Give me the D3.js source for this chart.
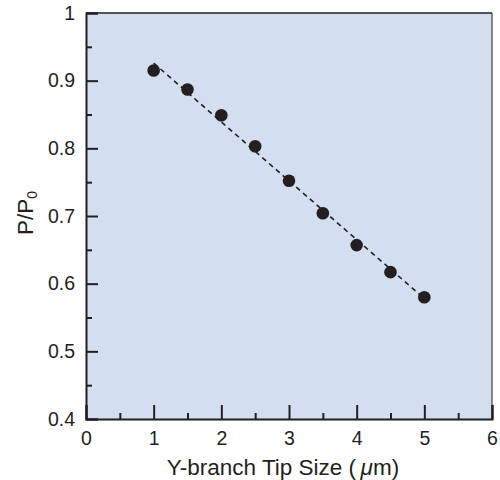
<!DOCTYPE html>
<html>
<head>
<meta charset="utf-8">
<script src="https://cdn.jsdelivr.net/npm/d3@7"></script>
<style>
  html, body { margin: 0; padding: 0; background: #ffffff; }
  svg text { font-family: "Liberation Sans", Arial, Helvetica, sans-serif; fill: #231f20; }
</style>
</head>
<body>
<svg id="chart" width="500" height="480"></svg>
<script>
// Data
const tipSize = [1, 1.5, 2, 2.5, 3, 3.5, 4, 4.5, 5];
const ratio = [0.915, 0.887, 0.849, 0.803, 0.752, 0.704, 0.657, 0.617, 0.580];
const fitX = [1, 5];
const fitY = [0.926, 0.578];
const xTicks = [0, 1, 2, 3, 4, 5, 6];
const xMinorTicks = [0.5, 1.5, 2.5, 3.5, 4.5, 5.5];
const yTicks = [0.4, 0.5, 0.6, 0.7, 0.8, 0.9, 1];
const yMinorTicks = [0.45, 0.55, 0.65, 0.75, 0.85, 0.95];

const svg = d3.select("#chart");
const mLeft = 86, mRight = 492, mTop = 13, mBottom = 419;
const ink = "#231f20";
const tickFont = 19.5;

const x = d3.scaleLinear().domain([0, 6]).range([mLeft, mRight]);
const y = d3.scaleLinear().domain([0.4, 1]).range([mBottom, mTop]);

// plot background
svg.append("rect")
  .attr("x", mLeft).attr("y", mTop)
  .attr("width", mRight - mLeft).attr("height", mBottom - mTop)
  .attr("fill", "#d3dff0");

// top and right frame
svg.append("line").attr("x1", mLeft).attr("x2", mRight).attr("y1", mTop).attr("y2", mTop)
  .attr("stroke", ink).attr("stroke-width", 1.5);
svg.append("line").attr("x1", mRight).attr("x2", mRight).attr("y1", mTop).attr("y2", mBottom)
  .attr("stroke", ink).attr("stroke-width", 1);

// x axis (ticks pointing up, inside)
const xAxis = d3.axisBottom(x).tickValues(xTicks).tickSize(-14).tickPadding(12)
  .tickFormat(d3.format("d"));
const gx = svg.append("g").attr("transform", `translate(0,${mBottom})`).call(xAxis);
gx.select(".domain").attr("stroke", ink).attr("stroke-width", 2);
gx.selectAll(".tick line").attr("stroke", ink).attr("stroke-width", 2);
gx.selectAll(".tick text").attr("font-size", tickFont).attr("fill", ink)
  .attr("font-family", "Liberation Sans, Arial, sans-serif");
const gxm = svg.append("g").attr("transform", `translate(0,${mBottom})`)
  .call(d3.axisBottom(x).tickValues(xMinorTicks).tickSize(-6).tickFormat(""));
gxm.select(".domain").remove();
gxm.selectAll(".tick line").attr("stroke", ink).attr("stroke-width", 2);

// y axis (ticks pointing right, inside)
const yAxis = d3.axisLeft(y).tickValues(yTicks).tickSize(-12).tickPadding(11)
  .tickFormat(d => d === 1 ? "1" : d3.format(".1f")(d));
const gy = svg.append("g").attr("transform", `translate(${mLeft},0)`).call(yAxis);
gy.select(".domain").attr("stroke", ink).attr("stroke-width", 2);
gy.selectAll(".tick line").attr("stroke", ink).attr("stroke-width", 2);
gy.selectAll(".tick text").attr("font-size", tickFont).attr("fill", ink)
  .attr("font-family", "Liberation Sans, Arial, sans-serif");
const gym = svg.append("g").attr("transform", `translate(${mLeft},0)`)
  .call(d3.axisLeft(y).tickValues(yMinorTicks).tickSize(-6).tickFormat(""));
gym.select(".domain").remove();
gym.selectAll(".tick line").attr("stroke", ink).attr("stroke-width", 2);

// dashed fit line
svg.append("path")
  .datum(fitX.map((d, i) => [d, fitY[i]]))
  .attr("d", d3.line().x(d => x(d[0])).y(d => y(d[1])))
  .attr("fill", "none").attr("stroke", ink).attr("stroke-width", 1.6)
  .attr("stroke-dasharray", "5,4");

// points
svg.append("g").selectAll("circle")
  .data(tipSize.map((d, i) => [d, ratio[i]]))
  .join("circle")
  .attr("cx", d => x(d[0])).attr("cy", d => y(d[1]))
  .attr("r", 6.3).attr("fill", ink);

// x title
const xt = svg.append("text")
  .attr("x", 283).attr("y", 475)
  .attr("text-anchor", "middle").attr("font-size", 22.5);
xt.append("tspan").text("Y-branch Tip Size (\u2009");
xt.append("tspan").attr("font-style", "italic").text("\u03bc");
xt.append("tspan").text("m)");

// y title
const yt = svg.append("text")
  .attr("transform", "translate(33,213) rotate(-90)")
  .attr("text-anchor", "middle").attr("font-size", 22.5);
yt.append("tspan").text("P/P");
yt.append("tspan").attr("font-size", 14).attr("dy", 4).text("0");
</script>
</body>
</html>
